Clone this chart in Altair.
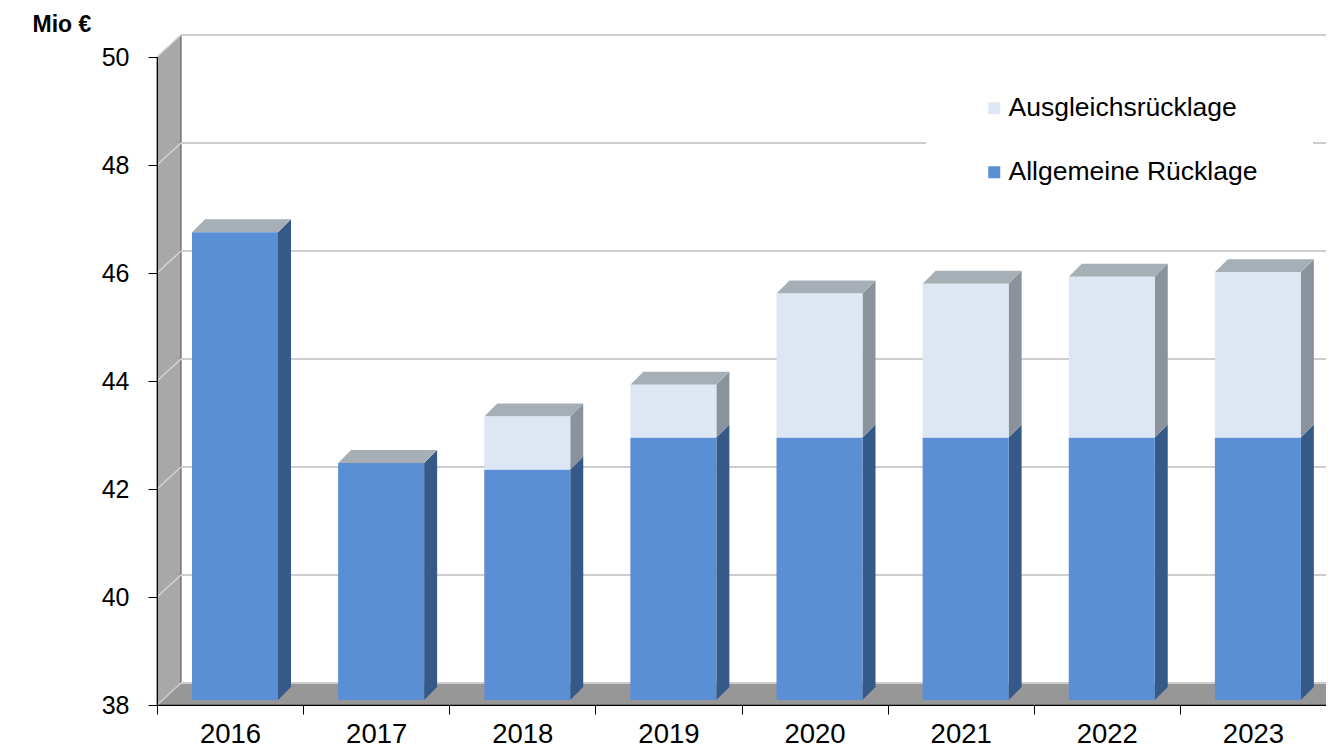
import json
import altair as alt
import pandas as pd

# ---------------- data ----------------
years = ["2016", "2017", "2018", "2019", "2020", "2021", "2022", "2023"]
allgemeine = [46.66, 42.39, 42.27, 42.86, 42.86, 42.86, 42.86, 42.86]
ausgleich = [0.0, 0.0, 0.98, 0.98, 2.67, 2.85, 2.98, 3.06]
series_names = ["Ausgleichsrücklage", "Allgemeine Rücklage"]
y_ticks = [38, 40, 42, 44, 46, 48, 50]

# ---------------- layout / style ----------------
W, H = 1169, 648
YMIN, YMAX = 38, 50
N = len(years)
PX = W / N
PY = H / (YMAX - YMIN)

WALL_DX, WALL_DY = 24, 22      # depth of walls (px)
BAR_LEFT, BAR_W = 30, 86       # bar position inside category (px)
D_FRONT, D_BACK = 5, 18        # bar depth (px)

FRONT = {"Allgemeine Rücklage": "#5a8fd5", "Ausgleichsrücklage": "#dde7f3"}
SIDE = {"Allgemeine Rücklage": "#355a87", "Ausgleichsrücklage": "#8a929b"}
TOP = "#a6aeb6"
WALL = "#a8a8a8"
FLOOR = "#979797"
EDGE = "#4a4a4a"
GRID = "#cdcdcd"
FONT = "Liberation Sans"

dxw, dyw = WALL_DX / PX, WALL_DY / PY

# ---------------- tables ----------------
front_rows, side_rows, top_rows = [], [], []
for i, yr in enumerate(years):
    segs = [("Allgemeine Rücklage", YMIN, allgemeine[i])]
    if ausgleich[i] > 0:
        segs.append(("Ausgleichsrücklage", allgemeine[i], allgemeine[i] + ausgleich[i]))
    for s, lo, hi in segs:
        front_rows.append({
            "x": i + (BAR_LEFT + D_FRONT) / PX,
            "x2": i + (BAR_LEFT + D_FRONT + BAR_W) / PX,
            "y": lo + D_FRONT / PY, "y2": hi + D_FRONT / PY,
            "series": s, "year": yr, "value": hi - lo,
        })
        key = f"{yr}-{s}"
        for d in (D_FRONT, D_BACK):
            side_rows.append({
                "key": key, "fill": SIDE[s],
                "x": i + (BAR_LEFT + BAR_W + d) / PX,
                "y": lo + d / PY, "y2": hi + d / PY,
            })
    top = segs[-1][2]
    for d in (D_FRONT, D_BACK):
        top_rows.append({
            "key": yr,
            "y": top + d / PY,
            "x": i + (BAR_LEFT + d) / PX,
            "x2": i + (BAR_LEFT + BAR_W + d) / PX,
        })

front_df = pd.DataFrame(front_rows)
side_df = pd.DataFrame(side_rows)
top_df = pd.DataFrame(top_rows)

wall_df = pd.DataFrame({"x": [0, dxw], "y": [YMIN, YMIN + dyw], "y2": [YMAX, YMAX + dyw]})
floor_df = pd.DataFrame({"y": [YMIN, YMIN + dyw], "x": [0, dxw], "x2": [N, N + dxw]})
grid_df = pd.DataFrame({"y": [v + dyw for v in y_ticks], "x": [dxw] * len(y_ticks),
                        "x2": [N + dxw] * len(y_ticks)})
diag_df = pd.DataFrame({"x": [0] * len(y_ticks), "x2": [dxw] * len(y_ticks),
                        "y": y_ticks, "y2": [v + dyw for v in y_ticks]})

# ---------------- scales / axes ----------------
xs = alt.Scale(domain=[0, N], nice=False, zero=False)
ys = alt.Scale(domain=[YMIN, YMAX], nice=False, zero=False)

label_expr = f"datum.value < {N} ? {json.dumps(years)}[datum.value] : ''"
xaxis = alt.Axis(values=list(range(N + 1)), labelExpr=label_expr, labelOffset=PX / 2,
                 labelFlush=False, labelFontSize=27.5, labelColor="black", labelFont=FONT,
                 labelPadding=6, tickSize=9, tickColor="black", domainColor="black",
                 grid=False, title=None, zindex=1, labelOverlap=False)
yaxis = alt.Axis(values=y_ticks, format="d", labelFontSize=25, labelColor="black",
                 labelFont=FONT, labelPadding=19, tickSize=9, tickColor="black",
                 domainColor="black", grid=False, zindex=1,
                 title="Mio €", titleAngle=0, titleX=-125, titleY=-26, titleAlign="left",
                 titleBaseline="alphabetic", titleFontSize=23, titleFontWeight="bold",
                 titleFont=FONT, titleColor="black")

X = lambda f="x": alt.X(f"{f}:Q", scale=xs, axis=xaxis)
Y = lambda f="y": alt.Y(f"{f}:Q", scale=ys, axis=yaxis)

wall = alt.Chart(wall_df).mark_area(orient="vertical", color=WALL, stroke=EDGE,
                                    strokeWidth=1, opacity=1).encode(
    x=X(), y=Y(), y2="y2:Q")
floor = alt.Chart(floor_df).mark_area(orient="horizontal", color=FLOOR, stroke=EDGE,
                                      strokeWidth=1, opacity=1).encode(
    y=Y(), x=X(), x2="x2:Q")
grid = alt.Chart(grid_df).mark_rule(color=GRID, strokeWidth=2).encode(
    x=X(), x2="x2:Q", y=Y())
diag = alt.Chart(diag_df).mark_rule(color="#d4d4d4", strokeWidth=1.5).encode(
    x=X(), x2="x2:Q", y=Y(), y2="y2:Q")

sides = alt.Chart(side_df).mark_area(orient="vertical", opacity=1).encode(
    x=X(), y=Y(), y2="y2:Q",
    color=alt.Color("fill:N", scale=None), detail="key:N")
tops = alt.Chart(top_df).mark_area(orient="horizontal", color=TOP, opacity=1).encode(
    y=Y(), x=X(), x2="x2:Q", detail="key:N")

fronts = alt.Chart(front_df).mark_rect().encode(
    x=X(), x2="x2:Q", y=Y(), y2="y2:Q",
    color=alt.Color("series:N",
                    scale=alt.Scale(domain=series_names,
                                    range=[FRONT[s] for s in series_names]),
                    legend=alt.Legend(title=None, orient="none",
                                      legendX=(988 - 157) - 55 - 7, legendY=-17,
                                      fillColor="white", padding=55,
                                      labelFontSize=26.5, labelFont=FONT,
                                      labelColor="black", symbolType="square",
                                      symbolSize=144, symbolStrokeWidth=0,
                                      labelOffset=1, rowPadding=37, labelLimit=0)),
    tooltip=["year:N", "series:N", alt.Tooltip("value:Q", format=".2f")])

chart = alt.layer(wall, floor, grid, diag, sides, tops, fronts).properties(
    width=W, height=H,
    autosize=alt.AutoSizeParams(type="none"),
    padding={"left": 149, "top": 49, "right": 0, "bottom": 42},
    background="white",
).configure(font=FONT).configure_view(strokeWidth=0)

chart.save("out.html", embed_options={"renderer": "svg", "actions": False})
